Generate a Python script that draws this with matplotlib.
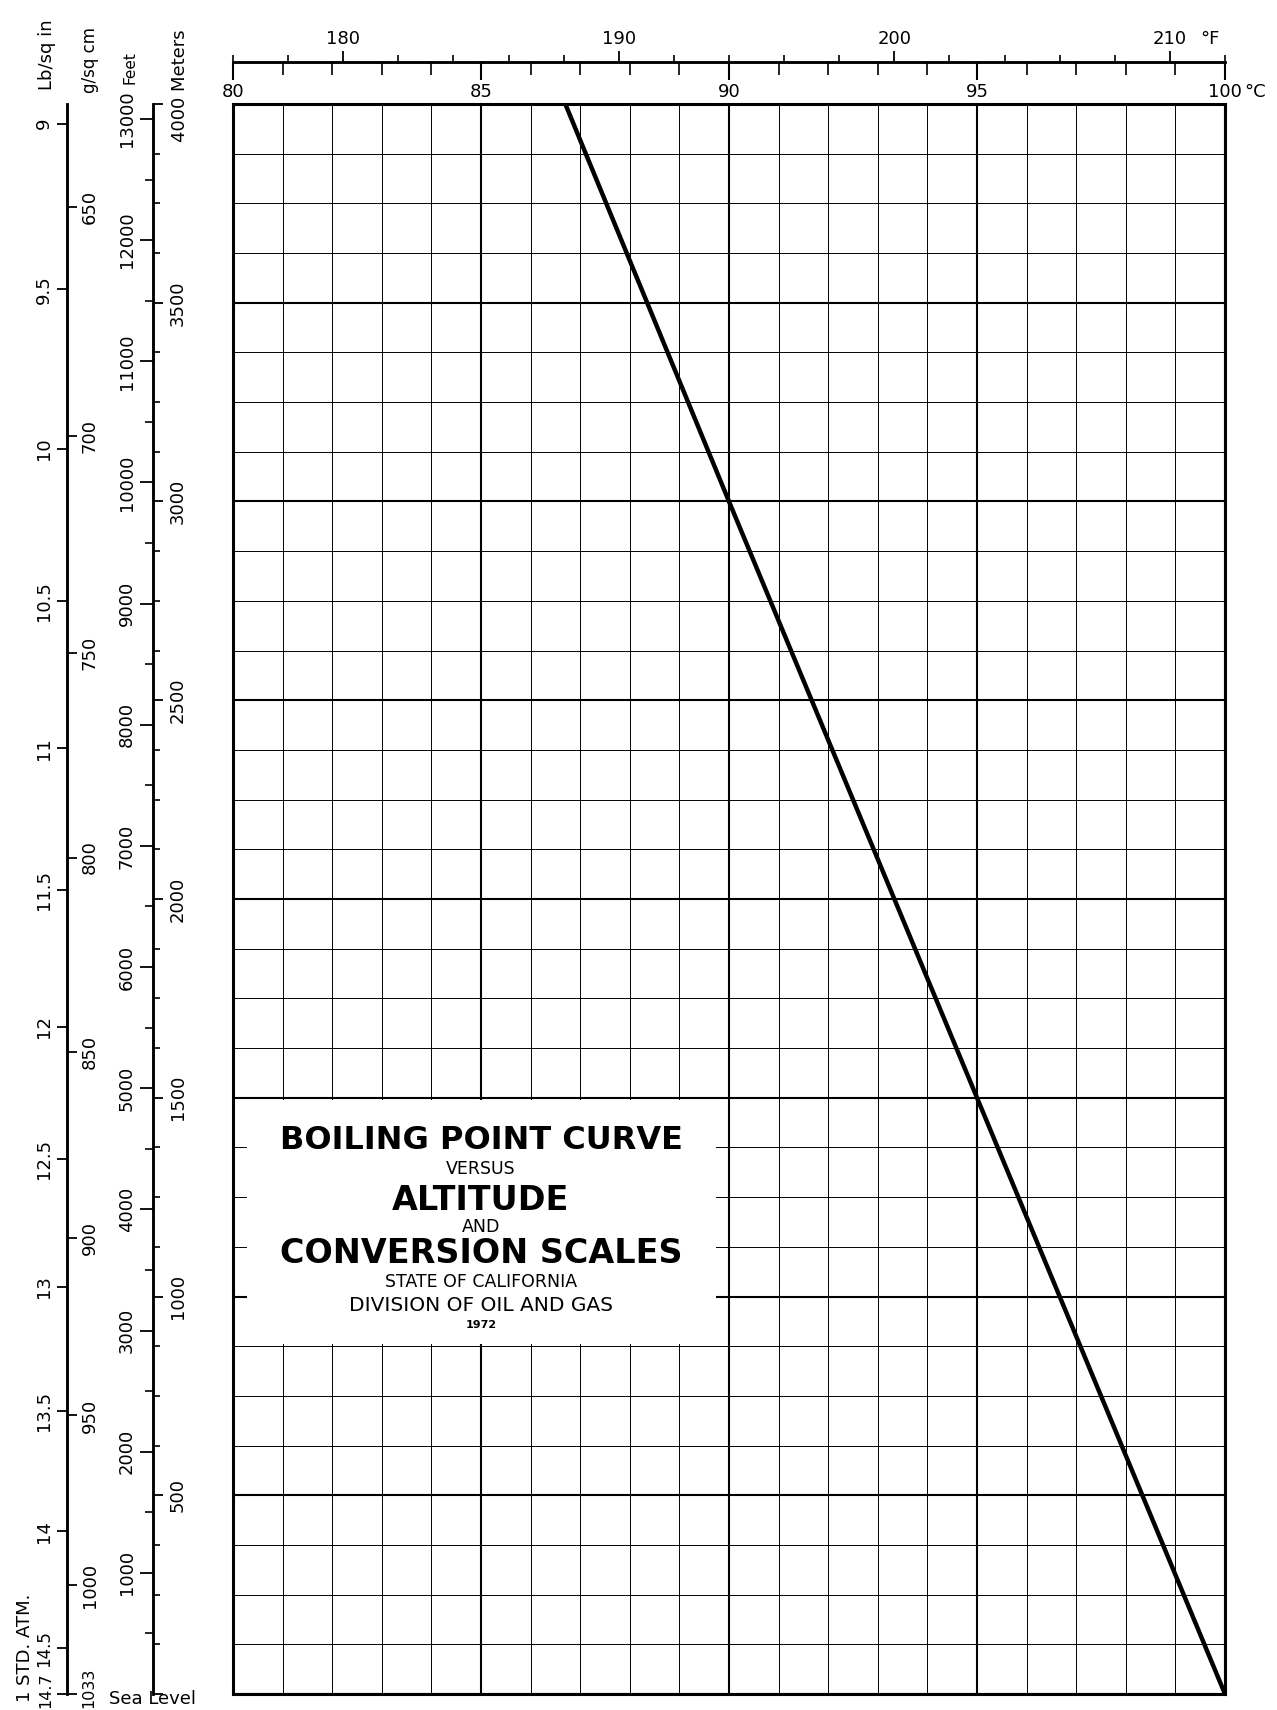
import numpy as np
import matplotlib
matplotlib.use("Agg")
import matplotlib.pyplot as plt
from matplotlib.patches import Rectangle
from matplotlib.transforms import ScaledTranslation

# boiling point of water
BOIL_ALT_M = [0, 1500, 3000, 4000]
BOIL_TEMP_C = [100.0, 95.0, 90.0, 86.7]

# temperature scales
C_MAJOR = [80, 85, 90, 95, 100]
C_LABELS = ["80", "85", "90", "95", "100"]
F_MAJOR = [180, 190, 200, 210]
F_LABELS = ["180", "190", "200", "210"]

# pressure scales
PSI_TICKS = [9, 9.5, 10, 10.5, 11, 11.5, 12, 12.5, 13, 13.5, 14, 14.5, 14.7]
PSI_LABELS = ["9", "9.5", "10", "10.5", "11", "11.5", "12", "12.5", "13",
              "13.5", "14", "14.5", "14.7"]
GCM_TICKS = [650, 700, 750, 800, 850, 900, 950, 1000, 1033]
GCM_LABELS = ["650", "700", "750", "800", "850", "900", "950", "1000", "1033"]

# altitude scales
FEET_MAJOR = [1000, 2000, 3000, 4000, 5000, 6000, 7000, 8000, 9000, 10000,
              11000, 12000, 13000]
FEET_LABELS = ["1000", "2000", "3000", "4000", "5000", "6000", "7000", "8000",
               "9000", "10000", "11000", "12000", "13000"]
METER_MAJOR = [0, 500, 1000, 1500, 2000, 2500, 3000, 3500, 4000]
METER_LABELS = ["", "500", "1000", "1500", "2000", "2500", "3000", "3500", ""]

FT_PER_M = 3.28084
P0_PSI = 14.7
P0_GCM = 1033.0

W, H = 1277, 1710


def fx(x):
    return x / W


def fy(y):
    return 1 - y / H


def ident(v):
    return v


def c_to_f(c):
    return np.asarray(c, float) * 9 / 5 + 32


def f_to_c(f):
    return (np.asarray(f, float) - 32) * 5 / 9


def m_to_ft(m):
    return np.asarray(m, float) * FT_PER_M


def ft_to_m(ft):
    return np.asarray(ft, float) / FT_PER_M


def m_to_p(m, p0):
    base = np.clip(1 - 2.25577e-5 * np.asarray(m, float), 1e-6, None)
    return p0 * base ** 5.25588


def p_to_m(p, p0):
    ratio = np.clip(np.asarray(p, float) / p0, 1e-9, None)
    return (1 - ratio ** (1 / 5.25588)) / 2.25577e-5


fig = plt.figure(figsize=(W / 100, H / 100), dpi=100)
ax = fig.add_axes([fx(233), 16 / H, 992 / W, 1590 / H])
ax.set_xlim(80, 100)
ax.set_ylim(0, 4000)

# grid
ax.set_xticks(C_MAJOR)
ax.set_xticks(np.arange(81, 100), minor=True)
ax.set_yticks(METER_MAJOR)
ax.set_yticks(np.arange(0, 4001, 125), minor=True)
ax.tick_params(which="both", length=0, labelbottom=False, labelleft=False)
ax.grid(which="major", color="black", lw=1.5)
ax.grid(which="minor", color="black", lw=0.7)
for s in ax.spines.values():
    s.set_linewidth(2.2)

# title block blanks out part of the grid
ax.add_patch(Rectangle((80.28, 880), 89.73 - 80.28, 1495 - 880,
                       facecolor="white", edgecolor="none", zorder=2))

ax.plot(BOIL_TEMP_C, BOIL_ALT_M, color="black", lw=3.2, zorder=3)

tx = 85
ax.text(tx, 1393, "BOILING POINT CURVE", ha="center", va="center",
        fontsize=23, fontweight="bold", zorder=4)
ax.text(tx, 1320, "VERSUS", ha="center", va="center", fontsize=12.5, zorder=4)
ax.text(tx, 1242, "ALTITUDE", ha="center", va="center",
        fontsize=24, fontweight="bold", zorder=4)
ax.text(tx, 1174, "AND", ha="center", va="center", fontsize=12.5, zorder=4)
ax.text(tx, 1109, "CONVERSION SCALES", ha="center", va="center",
        fontsize=24, fontweight="bold", zorder=4)
ax.text(tx, 1036, "STATE OF CALIFORNIA", ha="center", va="center",
        fontsize=12.5, zorder=4)
ax.text(tx, 978, "DIVISION OF OIL AND GAS", ha="center", va="center",
        fontsize=14.5, zorder=4)
ax.text(tx, 928, "1972", ha="center", va="center", fontsize=8,
        fontweight="bold", zorder=4)

TOP_LOC = 1 + (104 - 62) / 1590
P_LOC = (67 - 233) / 992
H_LOC = (153 - 233) / 992

# Fahrenheit (above) and Celsius (below) on one line
fax = ax.secondary_xaxis(TOP_LOC, functions=(c_to_f, f_to_c))
fax.set_ticks(F_MAJOR, F_LABELS)
fax.set_ticks(np.arange(176, 213, 2), minor=True)
fax.tick_params(which="major", length=8, width=1.3, pad=2, labelsize=13)
fax.tick_params(which="minor", length=5, width=1.2)
fax.spines["top"].set_linewidth(1.8)

cax = ax.secondary_xaxis(TOP_LOC, functions=(ident, ident))
cax.set_alignment("bottom")
cax.set_ticks(C_MAJOR, C_LABELS)
cax.set_ticks(np.arange(80, 101), minor=True)
cax.tick_params(which="major", length=13, width=1.5, pad=2, labelsize=13)
cax.tick_params(which="minor", length=9.4, width=1.2)
cax.spines["bottom"].set_linewidth(1.8)

fig.text(fx(1200), fy(48), "°F", ha="left", va="bottom", fontsize=13)
fig.text(fx(1244), fy(83), "°C", ha="left", va="top", fontsize=13)

# pressure line: lb/sq in left, g/sq cm right
pax = ax.secondary_yaxis(P_LOC, functions=(lambda m: m_to_p(m, P0_PSI),
                                           lambda p: p_to_m(p, P0_PSI)))
pax.set_ticks(PSI_TICKS, PSI_LABELS, rotation=90, va="center")
pax.tick_params(length=7, width=1.3, pad=3, labelsize=13)
pax.spines["left"].set_linewidth(1.8)

gax = ax.secondary_yaxis(P_LOC, functions=(lambda m: m_to_p(m, P0_GCM),
                                           lambda p: p_to_m(p, P0_GCM)))
gax.set_alignment("right")
gax.set_ticks(GCM_TICKS, GCM_LABELS, rotation=90, va="center")
gax.tick_params(length=7, width=1.3, pad=3, labelsize=13)
gax.spines["right"].set_linewidth(1.8)

# labels crowded at sea level: smaller, the last ones nudged up a little
psi_ticks = pax.yaxis.get_major_ticks()
psi_ticks[-2].label1.set_fontsize(12)
for lab, dy in ((psi_ticks[-1].label1, 0.035),
                (gax.yaxis.get_major_ticks()[-1].label2, 0.06)):
    lab.set_fontsize(11.5)
    lab.set_transform(lab.get_transform()
                      + ScaledTranslation(0, dy, fig.dpi_scale_trans))

# altitude line: feet left, meters right
ftax = ax.secondary_yaxis(H_LOC, functions=(m_to_ft, ft_to_m))
ftax.set_ticks(FEET_MAJOR, FEET_LABELS, rotation=90, va="center")
ftax.set_ticks(np.arange(500, 13001, 1000), minor=True)
ftax.tick_params(which="major", length=9.5, width=1.3, pad=3, labelsize=13)
ftax.tick_params(which="minor", length=5.5, width=1.2)
ftax.spines["left"].set_linewidth(1.8)

mtax = ax.secondary_yaxis(H_LOC, functions=(ident, ident))
mtax.set_alignment("right")
mtax.set_ticks(METER_MAJOR, METER_LABELS, rotation=90, va="center")
mtax.set_ticks(np.arange(0, 4001, 125), minor=True)
mtax.tick_params(which="major", length=7.5, width=1.3, pad=4, labelsize=13)
mtax.tick_params(which="minor", length=5, width=1.2)
mtax.spines["right"].set_linewidth(1.8)

# scale headings
fig.text(fx(47), fy(55), "Lb/sq in", rotation=90, ha="center", va="center",
         fontsize=13)
fig.text(fx(90), fy(60), "g/sq cm", rotation=90, ha="center", va="center",
         fontsize=12)
fig.text(fx(130), fy(68), "Feet", rotation=90, ha="center", va="center",
         fontsize=11)
fig.text(fx(180), fy(142), "4000 Meters", rotation=90, ha="center",
         va="bottom", fontsize=13)
fig.text(fx(25), fy(1648), "1 STD. ATM.", rotation=90, ha="center",
         va="center", fontsize=13)
fig.text(fx(109), fy(1699), "Sea Level", ha="left", va="center", fontsize=13)

fig.savefig("out.png", dpi=100, facecolor="white")
